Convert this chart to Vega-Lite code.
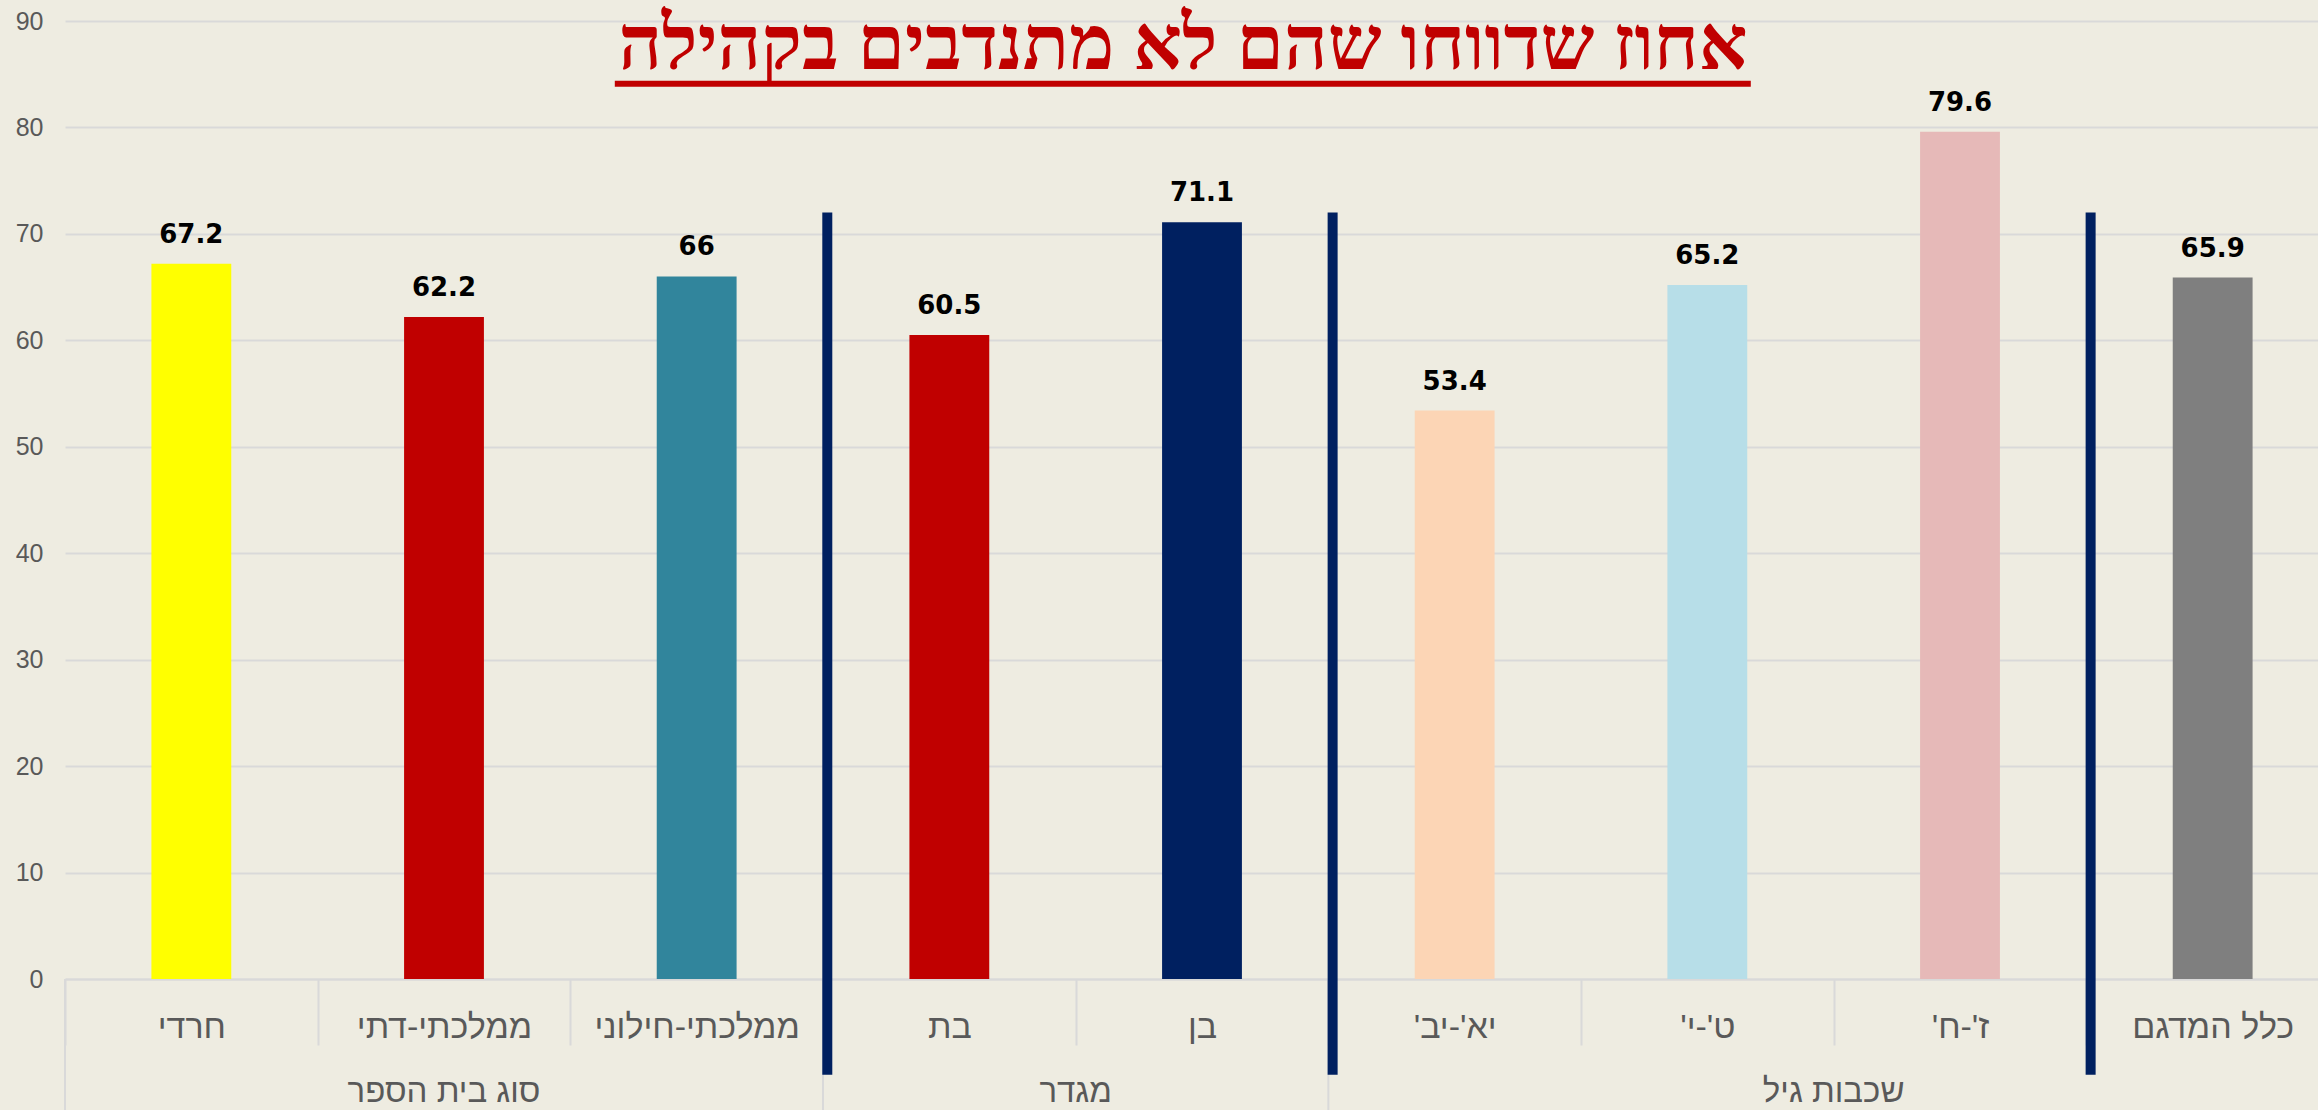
{
  "$schema": "https://vega.github.io/schema/vega-lite/v6.json",
  "width": 2274,
  "height": 958,
  "autosize": "none",
  "padding": {"left": 65, "top": 21, "right": -21, "bottom": 131},
  "background": "#EEECE1",
  "config": {"view": {"stroke": null}, "font": "Liberation Sans"},
  "title": {
    "text": "אחוז שדווחו שהם לא מתנדבים בקהילה",
    "font": "Liberation Serif",
    "fontSize": 76,
    "fontWeight": 900,
    "color": "#C00000",
    "anchor": "middle",
    "frame": "group",
    "baseline": "alphabetic",
    "offset": -56,
    "dx": -19,
    "dy": 80
  },
  "datasets": {
    "main": [
      {"category": "חרדי", "value": 67.2},
      {"category": "ממלכתי-דתי", "value": 62.2},
      {"category": "ממלכתי-חילוני", "value": 66},
      {"category": "בת", "value": 60.5},
      {"category": "בן", "value": 71.1},
      {"category": "יא'-יב'‏", "value": 53.4},
      {"category": "ט'-י'‏", "value": 65.2},
      {"category": "ז'-ח'‏", "value": 79.6},
      {"category": "כלל המדגם", "value": 65.9}
    ],
    "seps": [
      {"category": "בת"},
      {"category": "יא'-יב'‏"},
      {"category": "כלל המדגם"}
    ],
    "borders": [
      {"category": "חרדי"},
      {"category": "בת"},
      {"category": "יא'-יב'‏"}
    ],
    "groupsMid": [
      {"category": "ממלכתי-דתי", "group": "סוג בית הספר"}
    ],
    "groupsEdge": [
      {"category": "בן", "group": "מגדר"},
      {"category": "ז'-ח'‏", "group": "שכבות גיל"}
    ]
  },
  "layer": [
    {
      "data": {"name": "main"},
      "mark": {"type": "bar", "width": {"band": 0.316}},
      "encoding": {
        "x": {
          "field": "category",
          "type": "nominal",
          "sort": null,
          "scale": {
            "domain": ["חרדי", "ממלכתי-דתי", "ממלכתי-חילוני", "בת", "בן", "יא'-יב'‏", "ט'-י'‏", "ז'-ח'‏", "כלל המדגם"],
            "paddingInner": 0,
            "paddingOuter": 0
          },
          "axis": {
            "title": null,
            "labelAngle": 0,
            "labelFont": "Liberation Sans",
            "labelFontSize": 34,
            "labelColor": "#595959",
            "labelBaseline": "alphabetic",
            "labelPadding": -8,
            "labelLimit": 300,
            "labelOverlap": false,
            "tickBand": "extent",
            "tickSize": 66,
            "tickColor": "#D9D9D9",
            "tickWidth": 2,
            "domainColor": "#D9D9D9",
            "domainWidth": 2
          }
        },
        "y": {
          "field": "value",
          "type": "quantitative",
          "scale": {"domain": [0, 90], "nice": false},
          "axis": {
            "title": null,
            "values": [0, 10, 20, 30, 40, 50, 60, 70, 80, 90],
            "domain": false,
            "ticks": false,
            "grid": true,
            "gridColor": "#D9D9D9",
            "gridWidth": 2,
            "labelFont": "Liberation Sans",
            "labelFontSize": 25,
            "labelColor": "#595959",
            "labelPadding": 22
          }
        },
        "color": {
          "field": "category",
          "type": "nominal",
          "scale": {
            "domain": ["חרדי", "ממלכתי-דתי", "ממלכתי-חילוני", "בת", "בן", "יא'-יב'‏", "ט'-י'‏", "ז'-ח'‏", "כלל המדגם"],
            "range": ["#FFFF00", "#C00000", "#31859C", "#C00000", "#002060", "#FCD5B5", "#B7DEE8", "#E6B9B8", "#7F7F7F"]
          },
          "legend": null
        }
      }
    },
    {
      "data": {"name": "main"},
      "mark": {"type": "text", "dy": -21, "baseline": "alphabetic", "align": "center", "fontSize": 26, "fontWeight": "bold", "color": "#000000", "font": "DejaVu Sans"},
      "encoding": {
        "x": {"field": "category", "type": "nominal", "sort": null},
        "y": {"field": "value", "type": "quantitative", "scale": {"domain": [0, 90], "nice": false}},
        "text": {"field": "value", "type": "quantitative"}
      }
    },
    {
      "data": {"name": "borders"},
      "mark": {"type": "rule", "color": "#D9D9D9", "strokeWidth": 2, "clip": false},
      "encoding": {
        "x": {"field": "category", "type": "nominal", "sort": null, "bandPosition": 0},
        "y": {"datum": 0, "scale": {"domain": [0, 90], "nice": false}},
        "y2": {"datum": -13}
      }
    },
    {
      "data": {"name": "seps"},
      "mark": {"type": "rule", "color": "#002060", "strokeWidth": 10, "clip": false},
      "encoding": {
        "x": {"field": "category", "type": "nominal", "sort": null, "bandPosition": 0.017},
        "y": {"datum": 72, "scale": {"domain": [0, 90], "nice": false}},
        "y2": {"datum": -9}
      }
    },
    {
      "data": {"name": "groupsMid"},
      "mark": {"type": "text", "baseline": "alphabetic", "align": "center", "fontSize": 33, "color": "#595959", "font": "Liberation Sans", "clip": false},
      "encoding": {
        "x": {"field": "category", "type": "nominal", "sort": null, "bandPosition": 0.5},
        "y": {"datum": -11.56, "scale": {"domain": [0, 90], "nice": false}},
        "text": {"field": "group"}
      }
    },
    {
      "data": {"name": "groupsEdge"},
      "mark": {"type": "text", "baseline": "alphabetic", "align": "center", "fontSize": 33, "color": "#595959", "font": "Liberation Sans", "clip": false},
      "encoding": {
        "x": {"field": "category", "type": "nominal", "sort": null, "bandPosition": 0},
        "y": {"datum": -11.56, "scale": {"domain": [0, 90], "nice": false}},
        "text": {"field": "group"}
      }
    },
    {
      "data": {"values": [{}]},
      "mark": {"type": "rule", "color": "#C00000", "strokeWidth": 6, "clip": false},
      "encoding": {
        "x": {"datum": "ממלכתי-חילוני", "type": "nominal", "bandPosition": 0.176},
        "x2": {"datum": "ט'-י'‏", "bandPosition": 0.672},
        "y": {"datum": 84.1, "scale": {"domain": [0, 90], "nice": false}}
      }
    }
  ]
}
